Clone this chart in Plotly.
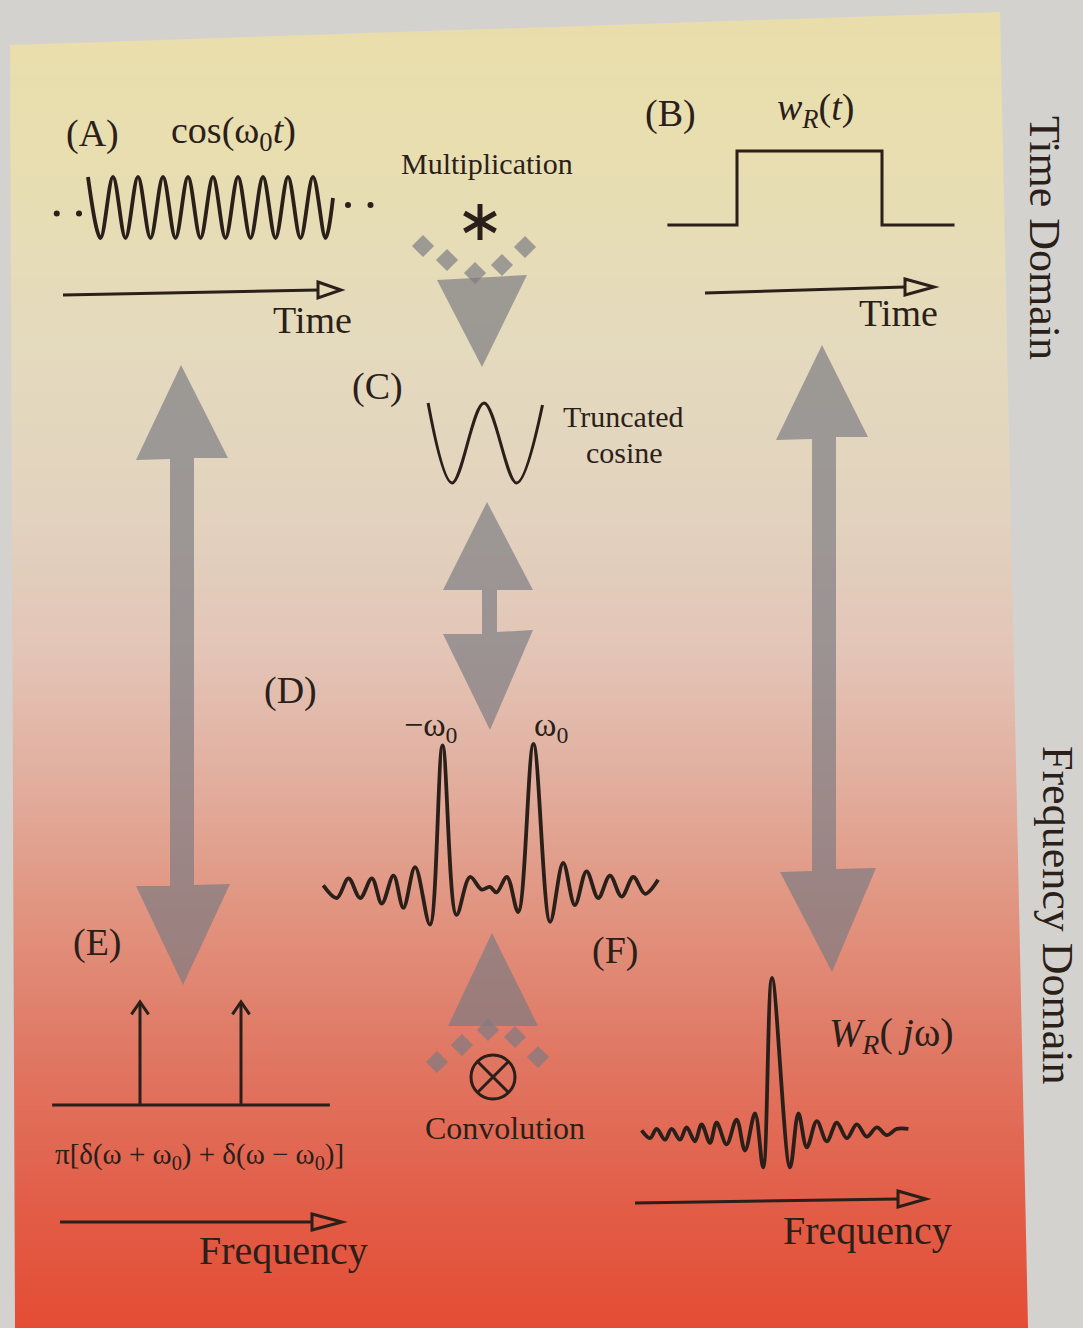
import plotly.graph_objects as go

W, H = 1083, 1328

# ---------------- data ----------------
# (A) cos(w0 t): extrema (time in periods, amplitude)
COS_T = [0, 0.5, 1, 1.5, 2, 2.5, 3, 3.5, 4, 4.5, 5, 5.5, 6, 6.5, 7, 7.5, 8, 8.5, 9, 9.5, 9.8]
COS_Y = [1, -1, 1, -1, 1, -1, 1, -1, 1, -1, 1, -1, 1, -1, 1, -1, 1, -1, 1, -1, 0.31]
DOTS_T = [-1.25, -0.36, 10.4, 11.3]
DOTS_Y = [-0.2, -0.2, 0.08, 0.08]

# (B) rectangular window w_R(t)
WR_T = [-0.48, 0, 0, 1, 1, 1.5]
WR_Y = [0, 0, 1, 1, 0, 0]

# (C) truncated cosine
TC_T = [-0.86, -0.49, 0, 0.5, 0.9]
TC_Y = [1.0, -1.0, 1.0, -1.0, 0.95]

# (D) spectrum of truncated cosine (frequency in units of w0)
D_F = [-3.66, -3.36, -3.10, -2.84, -2.58, -2.36, -2.10, -1.88, -1.62, -1.29, -1.01, -0.70,
       -0.40, -0.14, 0.04, 0.19, 0.42, 0.67, 1.01, 1.38, 1.67, 1.93, 2.19, 2.45, 2.71,
       2.97, 3.23, 3.49, 3.78]
D_A = [-0.01, -0.10, 0.04, -0.10, 0.04, -0.14, 0.06, -0.17, 0.12, -0.29, 0.99, -0.22,
       0.05, -0.04, -0.02, -0.06, 0.05, -0.20, 1.00, -0.27, 0.15, -0.15, 0.09, -0.10, 0.06,
       -0.09, 0.05, -0.07, 0.03]

# (E) impulses of cos(w0 t)
IMP_F = [-1, 1]
IMP_A = [1, 1]
E_AXIS = [-2.74, 2.76]

# (F) W_R(jw)
F_F = [-6.52, -6.10, -5.77, -5.35, -5.02, -4.60, -4.27, -3.85, -3.52, -3.10, -2.77, -2.27,
       -1.77, -1.35, -0.85, -0.44, 0.0, 0.90, 1.32, 1.74, 2.24, 2.74, 3.24, 3.74, 4.24,
       4.74, 5.24, 5.74, 6.24, 6.82]
F_A = [0.01, -0.04, 0.02, -0.05, 0.02, -0.05, 0.03, -0.06, 0.05, -0.07, 0.06, -0.08,
       0.08, -0.12, 0.12, -0.23, 1.00, -0.23, 0.12, -0.10, 0.07, -0.06, 0.06, -0.04, 0.05,
       -0.03, 0.03, -0.02, 0.02, 0.02]

# background gradient (page photo)
BG_Y = [0, 150, 350, 520, 650, 780, 900, 1050, 1200, 1328]
BG_C = ["rgb(233,222,170)", "rgb(232,222,176)", "rgb(228,218,190)", "rgb(226,210,190)",
        "rgb(227,197,183)", "rgb(226,174,158)", "rgb(225,150,130)", "rgb(224,120,100)",
        "rgb(226,94,72)", "rgb(228,76,53)"]

# ---------------- styles ----------------
INK = "#2b1f1a"
GRAY = "rgba(122,122,130,0.68)"
SERIF = "Liberation Serif, Times New Roman, DejaVu Serif, serif"
LW = 3.8

fig = go.Figure()
layout = dict(
    width=W, height=H, margin=dict(l=0, r=0, t=0, b=0),
    paper_bgcolor="rgb(212,210,207)", plot_bgcolor="rgba(0,0,0,0)",
    showlegend=False,
    xaxis=dict(domain=[0, 1], range=[0, W], visible=False, fixedrange=True),
    yaxis=dict(domain=[0, 1], range=[H, 0], visible=False, fixedrange=True),
)


def panel_axes(n, box, xo, sx, yo, sy):
    L, T, R, B = box
    layout[f"xaxis{n}"] = dict(domain=[L / W, R / W], range=[(L - xo) / sx, (R - xo) / sx],
                               visible=False, anchor=f"y{n}", fixedrange=True)
    layout[f"yaxis{n}"] = dict(domain=[1 - B / H, 1 - T / H], range=[(yo - B) / sy, (yo - T) / sy],
                               visible=False, anchor=f"x{n}", fixedrange=True)


# background heatmap in main pixel axes
cs = [[y / H, c] for y, c in zip(BG_Y, BG_C)]
fig.add_trace(go.Heatmap(x=[0, W], y=BG_Y, z=[[y, y] for y in BG_Y], colorscale=cs,
                         zmin=0, zmax=H, zsmooth="best", showscale=False, hoverinfo="skip",
                         xaxis="x", yaxis="y"))

# panels
panel_axes(2, (30, 150, 400, 265), 88, 25, 207.5, 30.5)
panel_axes(3, (640, 130, 980, 250), 737, 145, 225, 74)
panel_axes(4, (410, 390, 560, 500), 484, 65, 443, 40)
panel_axes(5, (300, 720, 680, 950), 488, 45, 884, 140)
panel_axes(6, (40, 980, 350, 1120), 190.5, 50.5, 1105, 103)
panel_axes(7, (620, 960, 930, 1190), 772, 20, 1132, 154)

line = dict(color=INK, width=LW, shape="spline", smoothing=1.0)
fig.add_trace(go.Scatter(x=COS_T, y=COS_Y, mode="lines", line=line, xaxis="x2", yaxis="y2", hoverinfo="skip"))
fig.add_trace(go.Scatter(x=DOTS_T, y=DOTS_Y, mode="markers", marker=dict(color=INK, size=6),
                         xaxis="x2", yaxis="y2", hoverinfo="skip"))
fig.add_trace(go.Scatter(x=WR_T, y=WR_Y, mode="lines", line=dict(color=INK, width=3),
                         xaxis="x3", yaxis="y3", hoverinfo="skip"))
fig.add_trace(go.Scatter(x=TC_T, y=TC_Y, mode="lines", line=dict(color=INK, width=3, shape="spline"),
                         xaxis="x4", yaxis="y4", hoverinfo="skip"))
fig.add_trace(go.Scatter(x=D_F, y=D_A, mode="lines", line=line, xaxis="x5", yaxis="y5", hoverinfo="skip"))
fig.add_trace(go.Scatter(x=F_F, y=F_A, mode="lines", line=line, xaxis="x7", yaxis="y7", hoverinfo="skip"))

# (E) impulses built from arrays
ex, ey = [E_AXIS[0], E_AXIS[1], None], [0, 0, None]
for f, a in zip(IMP_F, IMP_A):
    ex += [f, f, None, f - 0.17, f, f + 0.17, None]
    ey += [0, a, None, a - 0.12, a, a - 0.12, None]
fig.add_trace(go.Scatter(x=ex, y=ey, mode="lines", line=dict(color=INK, width=3),
                         xaxis="x6", yaxis="y6", hoverinfo="skip"))

# ---------------- decorations (shapes, pixel axes) ----------------
shapes = []
# outside of the coloured page region
shapes.append(dict(type="path", xref="x", yref="y", layer="above",
                   path="M0,0 L1083,0 L1083,1328 L1028,1328 L1000,12 L10,45 L15,1328 L0,1328 Z",
                   fillcolor="rgb(212,210,207)", line=dict(width=0)))


def gray(path):
    shapes.append(dict(type="path", xref="x", yref="y", layer="above", path=path,
                       fillcolor=GRAY, line=dict(width=0)))


gray("M181,365 L228,458 L194,458 L194,885 L230,884 L183,985 L136,886 L170,886 L170,459 L136,460 Z")
gray("M822,345 L868,437 L836,437 L836,869 L876,868 L832,972 L780,872 L812,871 L812,439 L776,440 Z")
gray("M487,502 L533,590 L497,590 L497,632 L533,630 L490,730 L443,634 L482,634 L482,590 L443,590 Z")
gray("M437,280 L527,275 L482,367 Z")
gray("M492,933 L538,1026 L448,1026 Z")


def axis_arrow(x0, y0, x1, y1, tip):
    shapes.append(dict(type="line", xref="x", yref="y", layer="above", x0=x0, y0=y0, x1=x1, y1=y1,
                       line=dict(color=INK, width=3)))
    shapes.append(dict(type="path", xref="x", yref="y", layer="above",
                       path=f"M{x1},{y1 - 8} L{tip},{y1} L{x1},{y1 + 8} Z",
                       fillcolor="rgba(0,0,0,0)", line=dict(color=INK, width=3)))


axis_arrow(63, 295, 318, 290, 341)
axis_arrow(705, 293, 905, 287, 934)
axis_arrow(60, 1222, 312, 1222, 342)
axis_arrow(635, 1203, 898, 1199, 926)

# asterisk (multiplication)
for dx, dy in [(0, 18), (15.6, 9), (-15.6, 9)]:
    shapes.append(dict(type="line", xref="x", yref="y", layer="above",
                       x0=480 - dx, y0=222 - dy, x1=480 + dx, y1=222 + dy,
                       line=dict(color=INK, width=5)))
# circled times (convolution)
shapes.append(dict(type="circle", xref="x", yref="y", layer="above",
                   x0=471, y0=1055, x1=515, y1=1099, line=dict(color=INK, width=3)))
for s in (1, -1):
    shapes.append(dict(type="line", xref="x", yref="y", layer="above",
                       x0=478, y0=1077 - 15 * s, x1=508, y1=1077 + 15 * s,
                       line=dict(color=INK, width=3)))

# diamonds
fig.add_trace(go.Scatter(x=[423, 447, 475, 502, 525, 437, 462, 488, 515, 538],
                         y=[246, 260, 273, 265, 247, 1062, 1045, 1030, 1037, 1057],
                         mode="markers", marker=dict(symbol="diamond", size=17, color=GRAY),
                         xaxis="x", yaxis="y", hoverinfo="skip"))

# ---------------- text ----------------
ann = []


def txt(x, y, s, size, angle=0, anchor="center"):
    ann.append(dict(x=x, y=y, xref="x", yref="y", text=s, showarrow=False, textangle=angle,
                    xanchor=anchor, yanchor="middle",
                    font=dict(family=SERIF, size=size, color=INK)))


txt(92, 133, "(A)", 38)
txt(233, 133, "cos(ω<sub>0</sub><i>t</i>)", 38)
txt(670, 113, "(B)", 38)
txt(815, 110, "<i>w</i><sub><i>R</i></sub>(<i>t</i>)", 38)
txt(487, 163, "Multiplication", 30)
txt(312, 320, "Time", 38)
txt(898, 313, "Time", 38)
txt(377, 386, "(C)", 38)
txt(623, 416, "Truncated", 30)
txt(624, 452, "cosine", 30)
txt(290, 690, "(D)", 38)
txt(430, 727, "−ω<sub>0</sub>", 34)
txt(551, 727, "ω<sub>0</sub>", 34)
txt(97, 942, "(E)", 38)
txt(615, 950, "(F)", 38)
txt(199, 1156, "π[δ(ω + ω<sub>0</sub>) + δ(ω − ω<sub>0</sub>)]", 29)
txt(505, 1128, "Convolution", 32)
txt(891, 1035, "<i>W</i><sub><i>R</i></sub>( <i>j</i>ω)", 40)
txt(283, 1250, "Frequency", 40)
txt(867, 1230, "Frequency", 40)
txt(1045, 238, "Time Domain", 44, angle=90)
txt(1058, 915, "Frequency Domain", 44, angle=90)

layout["shapes"] = shapes
layout["annotations"] = ann
fig.update_layout(**layout)
fig.write_html("out.html", config={"displayModeBar": False},
               post_script="document.body.style.margin='0px';document.body.style.overflow='hidden';")
